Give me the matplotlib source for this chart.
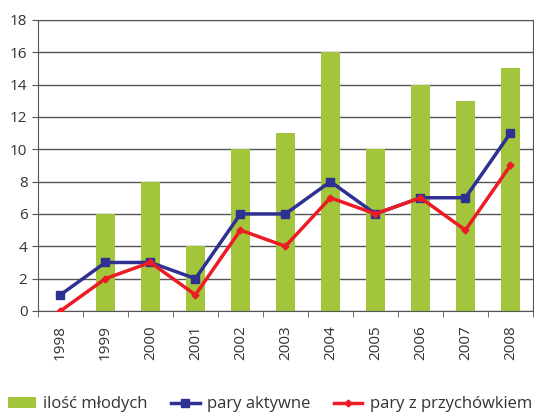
import matplotlib.pyplot as plt
import numpy as np

years = ['1998', '1999', '2000', '2001', '2002', '2003', '2004', '2005', '2006', '2007', '2008']
mlode = [0, 6, 8, 4, 10, 11, 16, 10, 14, 13, 15]
aktywne = [1, 3, 3, 2, 6, 6, 8, 6, 7, 7, 11]
przychowek = [0, 2, 3, 1, 5, 4, 7, 6, 7, 5, 9]

plt.rcParams['font.family'] = ['Open Sans', 'DejaVu Sans']

fig = plt.figure(figsize=(5.34, 4.13), dpi=100)
ax = fig.add_axes([0.071, 0.247, 0.927, 0.705])

x = np.arange(len(years))
b = ax.bar(x, mlode, width=0.42, color='#a2c53c', label='ilość młodych', zorder=2)
l1, = ax.plot(x, aktywne, '-s', color='#2e3192', lw=2.5, ms=6, label='pary aktywne', zorder=3)
l2, = ax.plot(x, przychowek, '-D', color='#ed1c24', lw=2.5, ms=3.5, label='pary z przychówkiem', zorder=4)

ax.set_xlim(-0.5, len(years) - 0.5)
ax.set_ylim(0, 18)
ax.set_yticks(range(0, 19, 2))
ax.yaxis.grid(True, color='#555555', lw=1, zorder=0)
ax.set_xticks(x)
ax.set_xticklabels(years, rotation=90, fontsize=11, color='#333333')
ax.tick_params(axis='x', length=0, pad=10)
ax.set_xticks(np.arange(-0.5, len(years)), minor=True)
ax.tick_params(axis='x', which='minor', length=4, color='#555555', direction='out')
ax.tick_params(axis='y', labelsize=11, labelcolor='#333333', length=4, color='#555555')
for s in ['left', 'bottom', 'right', 'top']:
    ax.spines[s].set_color('#555555')

fig.legend([b, l1, l2], ['ilość młodych', 'pary aktywne', 'pary z przychówkiem'],
           loc='lower center', bbox_to_anchor=(0.505, -0.035), ncol=3, frameon=False,
           fontsize=12, handlelength=1.7, columnspacing=1.4, handletextpad=0.45,
           labelcolor='#333333')

fig.savefig('out.png', dpi=100)
